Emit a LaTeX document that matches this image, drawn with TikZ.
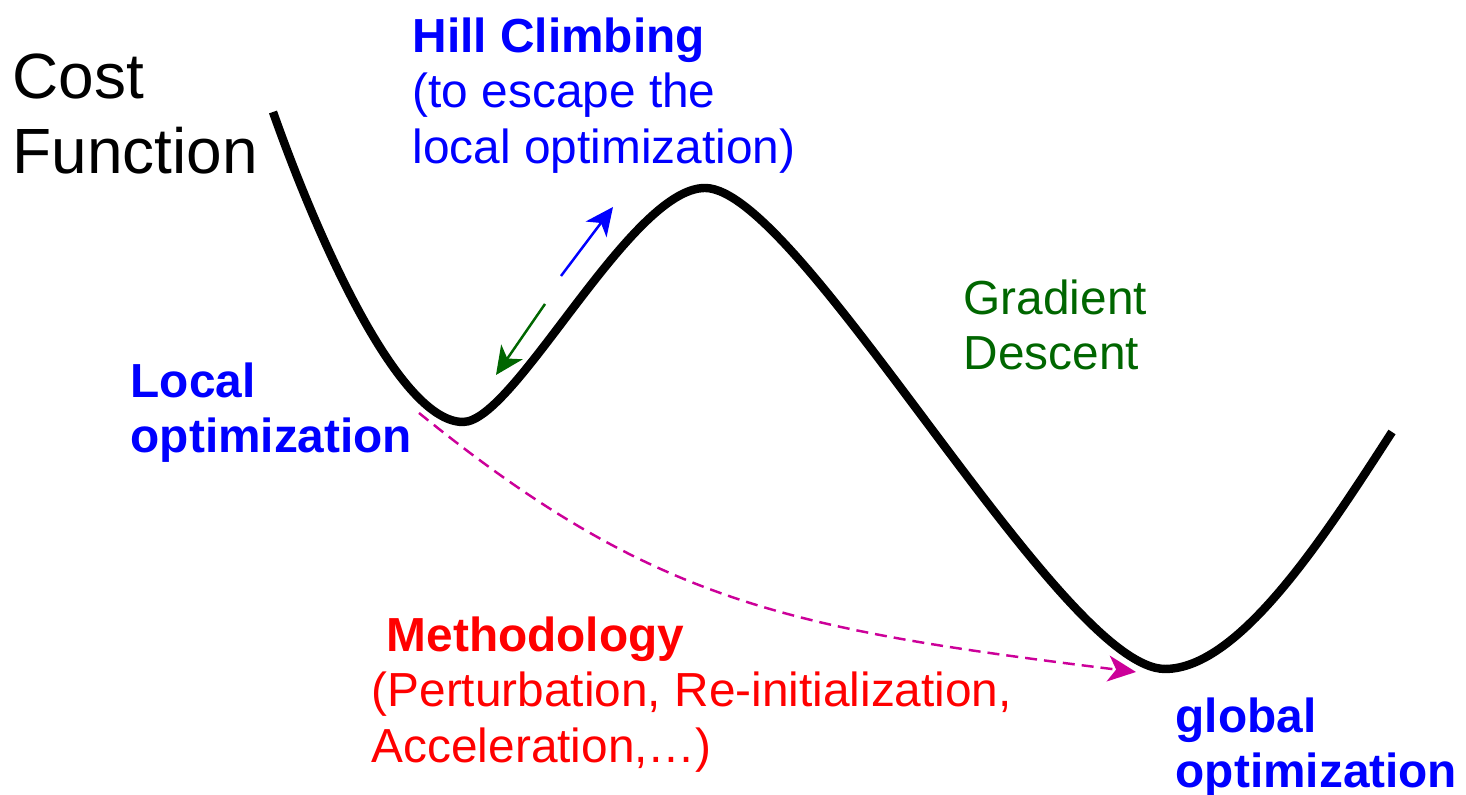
\documentclass[tikz,border=0pt]{standalone}
\usepackage{fontspec}
\setmainfont{Liberation Sans}
\usetikzlibrary{arrows.meta}
\definecolor{gdgreen}{RGB}{0,102,0}
\definecolor{pathmag}{RGB}{204,0,153}
\tikzset{lab/.style={inner sep=0pt, anchor=north west, align=left, font=\fontsize{13.6}{15.8}\selectfont},
    boldlab/.style={lab, font=\fontsize{13.6}{15.8}\selectfont\bfseries},
    tip/.style={-{Stealth[length=0.28cm,width=0.26cm,inset=0.08cm]}, line width=0.7pt}}

\begin{document}
\begin{tikzpicture}
    \useasboundingbox (0,0) rectangle (14.66,7.95);

    \draw[line width=2.4pt] (2.73,6.83) .. controls (3.2,5.5) and (4.0,3.73) .. (4.63,3.73)
        .. controls (5.15,3.73) and (6.3,6.07) .. (7.05,6.07)
        .. controls (8.0,6.07) and (10.6,1.26) .. (11.65,1.26)
        .. controls (12.4,1.26) and (13.26,2.61) .. (13.92,3.63);

    \coordinate (locmin) at (4.19,3.82);
    \coordinate (globmin) at (11.36,1.23);
    \coordinate (up0) at (5.61,5.19);
    \coordinate (up1) at (6.13,5.88);
    \coordinate (dn0) at (5.45,4.91);
    \coordinate (dn1) at (4.96,4.20);

    \draw[tip, blue] (up0) -- (up1);
    \draw[tip, gdgreen] (dn0) -- (dn1);
    \draw[tip, pathmag, dash pattern=on 0.12cm off 0.07cm] (locmin) .. controls (6.52,1.93) and (7.87,1.66) .. (globmin);

    \node[lab, font=\fontsize{18.2}{21.3}\selectfont] (cost) at (0.12,7.42) {Cost\\Function};
    \node[lab, blue] (hill) at (4.12,7.78) {\textbf{Hill Climbing}\\(to escape the\\local optimization)};
    \node[boldlab, blue] (local) at (1.30,4.33) {Local\\optimization};
    \node[lab, gdgreen] (grad) at (9.63,5.16) {Gradient\\Descent};
    \node[lab, red] (meth) at (3.71,1.79) {\hspace*{0.15cm}\textbf{Methodology}\\(Perturbation, Re-initialization,\\Acceleration,…)};
    \node[boldlab, blue] (glob) at (11.75,0.98) {global\\optimization};
%    \draw (hill.south west) rectangle (hill.north east);
\end{tikzpicture}
\end{document}
